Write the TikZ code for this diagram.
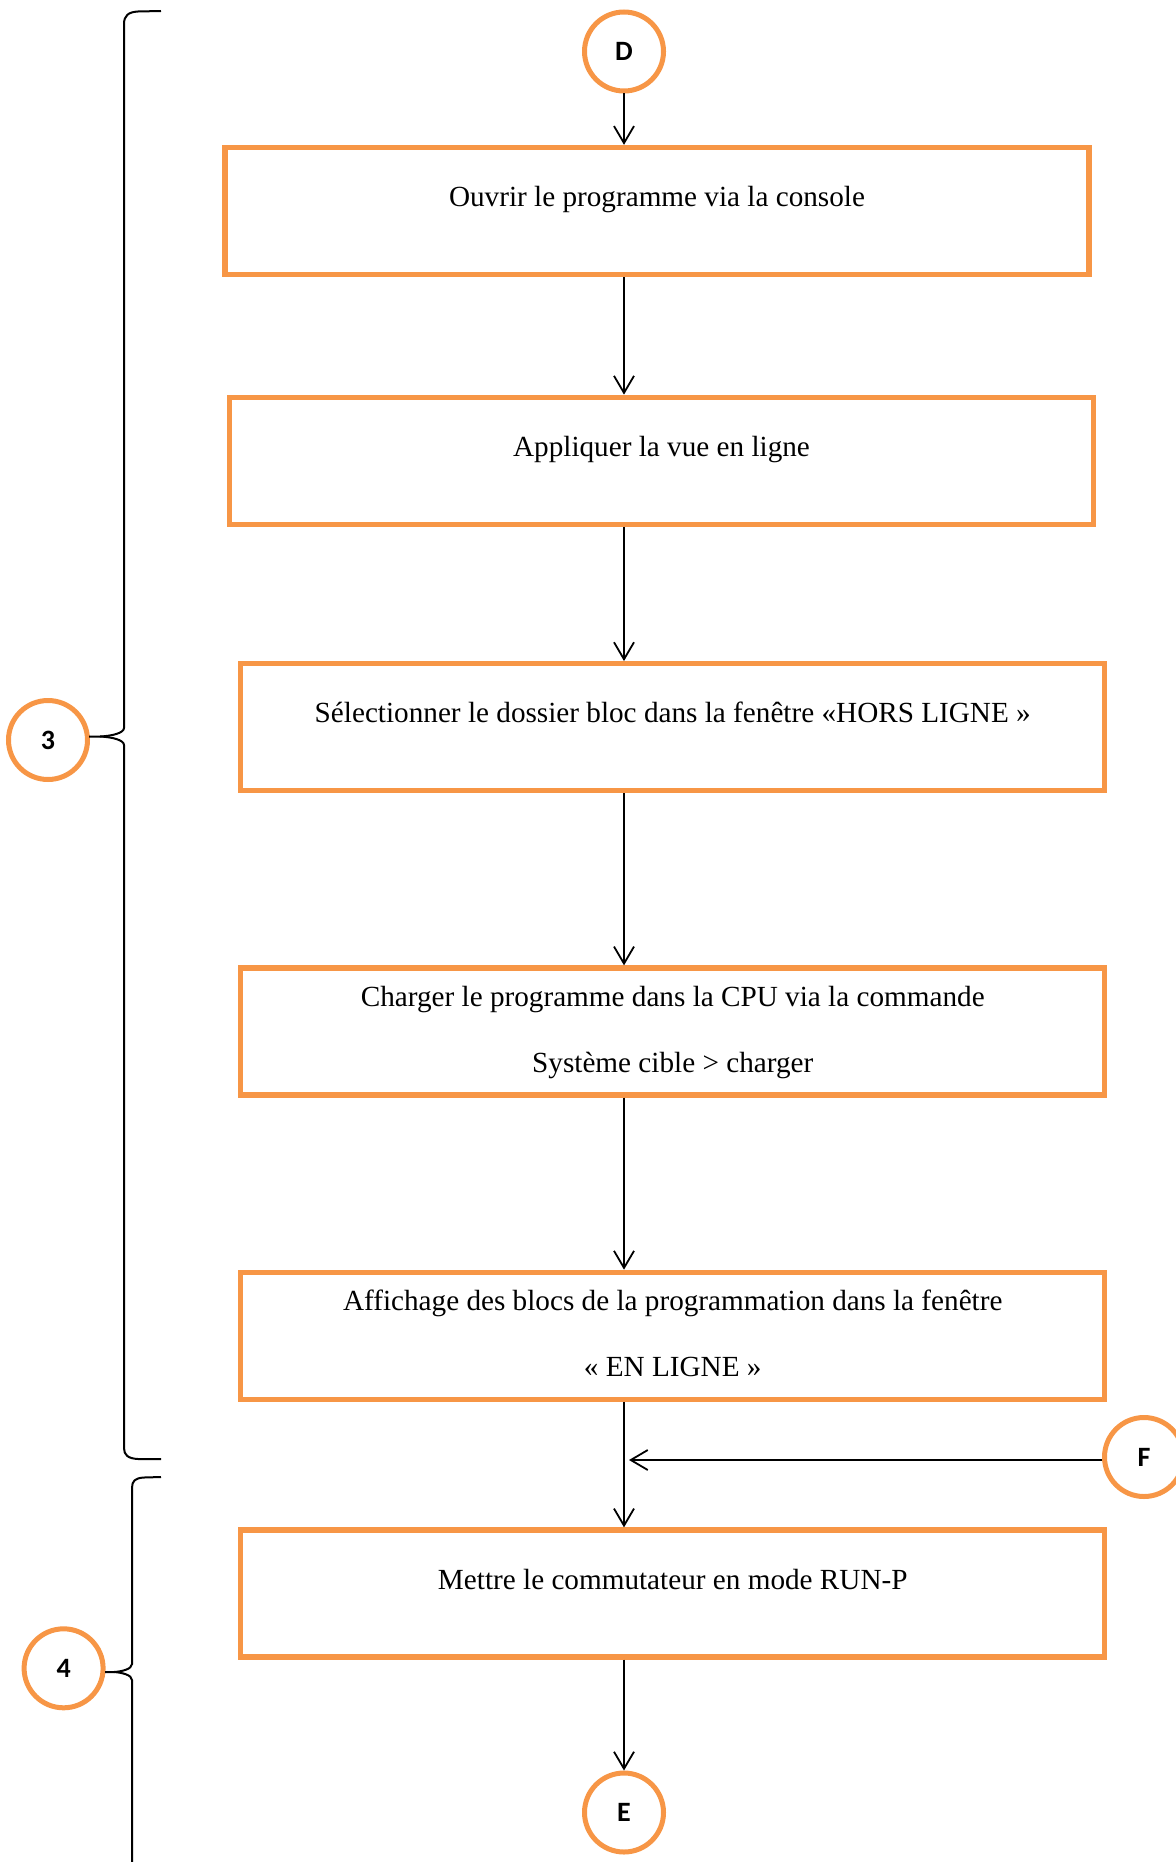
\documentclass[tikz,border=0pt]{standalone}
\usepackage{fontspec}
\setmainfont{Liberation Serif}
\newfontfamily\calibrifont{Carlito}
\usetikzlibrary{arrows.meta}
\definecolor{orangeetape}{HTML}{F79646}

\begin{document}
\begin{tikzpicture}[x=0.5pt,y=-0.5pt,
  etape/.style={draw=orangeetape, line width=2.65pt, text width=432pt, align=flush center,
    inner sep=0pt, anchor=base, font=\fontsize{14.6}{33}\selectfont},
  uneligne/.style={etape, text height=29.5pt, text depth=34pt},
  deuxlignes/.style={etape, text height=19pt, text depth=44.5pt},
  renvoi/.style={circle, draw=orangeetape, line width=2.5pt, minimum size=39.5pt, inner sep=0pt,
    font=\calibrifont\bfseries\fontsize{14}{16}\selectfont},
  fleche/.style={line width=0.9pt, -{Straight Barb[length=8.5pt,width=10pt]}},
  accolade/.style={line width=1pt}]
  \useasboundingbox (0,0) rectangle (1176,1862);
  \clip (0,0) rectangle (1176,1862);
  \node[renvoi] (D) at (624,51.5) {D};
  \node[uneligne] (b1) at (657,206.5) {Ouvrir le programme via la console};
  \node[uneligne] (b2) at (661.5,456.3) {Appliquer la vue en ligne};
  \node[uneligne] (b3) at (672.75,722.7) {Sélectionner le dossier bloc dans la fenêtre «HORS LIGNE »};
  \node[deuxlignes] (b4) at (672.75,1006) {Charger le programme dans la CPU via la commande\\Système cible > charger};
  \node[deuxlignes] (b5) at (672.75,1310.3) {Affichage des blocs de la programmation dans la fenêtre\\« EN LIGNE »};
  \node[uneligne] (b6) at (672.75,1589) {Mettre le commutateur en mode RUN-P};
  \node[renvoi] (E) at (624,1812.5) {E};
  \node[renvoi] (F) at (1144,1457) {F};
  \node[renvoi] (c3) at (48,740) {3};
  \node[renvoi] (c4) at (63.6,1668.3) {4};
  \draw[fleche] (D) -- (D |- b1.north);
  \foreach \a/\b in {b1/b2,b2/b3,b3/b4,b4/b5,b5/b6}
    \draw[fleche] (\a.south -| D) -- (\b.north -| D);
  \draw[fleche] (b6.south -| D) -- (E);
  \coordinate (pointeF) at (629,1460);
  \draw[fleche] (F.west |- pointeF) -- (pointeF);
  \draw[accolade] (161,11) -- (138,11.5) .. controls (128,12) and (124,16) .. (124,24) -- (124,728)
    .. controls (124,733) and (112,736) .. (100,736.5) -- (89,736.5);
  \draw[accolade] (100,736.5) .. controls (112,737) and (124,740) .. (124,745) -- (124,1448)
    .. controls (124,1455) and (128,1458.5) .. (138,1459) -- (161,1459);
  \draw[accolade] (161,1477) -- (144,1477.5) .. controls (135,1478) and (132,1481) .. (132,1488) -- (132,1664)
    .. controls (132,1669) and (122,1671.5) .. (114,1672) -- (105,1672);
  \draw[accolade] (114,1672) .. controls (122,1672.5) and (132,1675) .. (132,1680) -- (132,1880);
\end{tikzpicture}
\end{document}
